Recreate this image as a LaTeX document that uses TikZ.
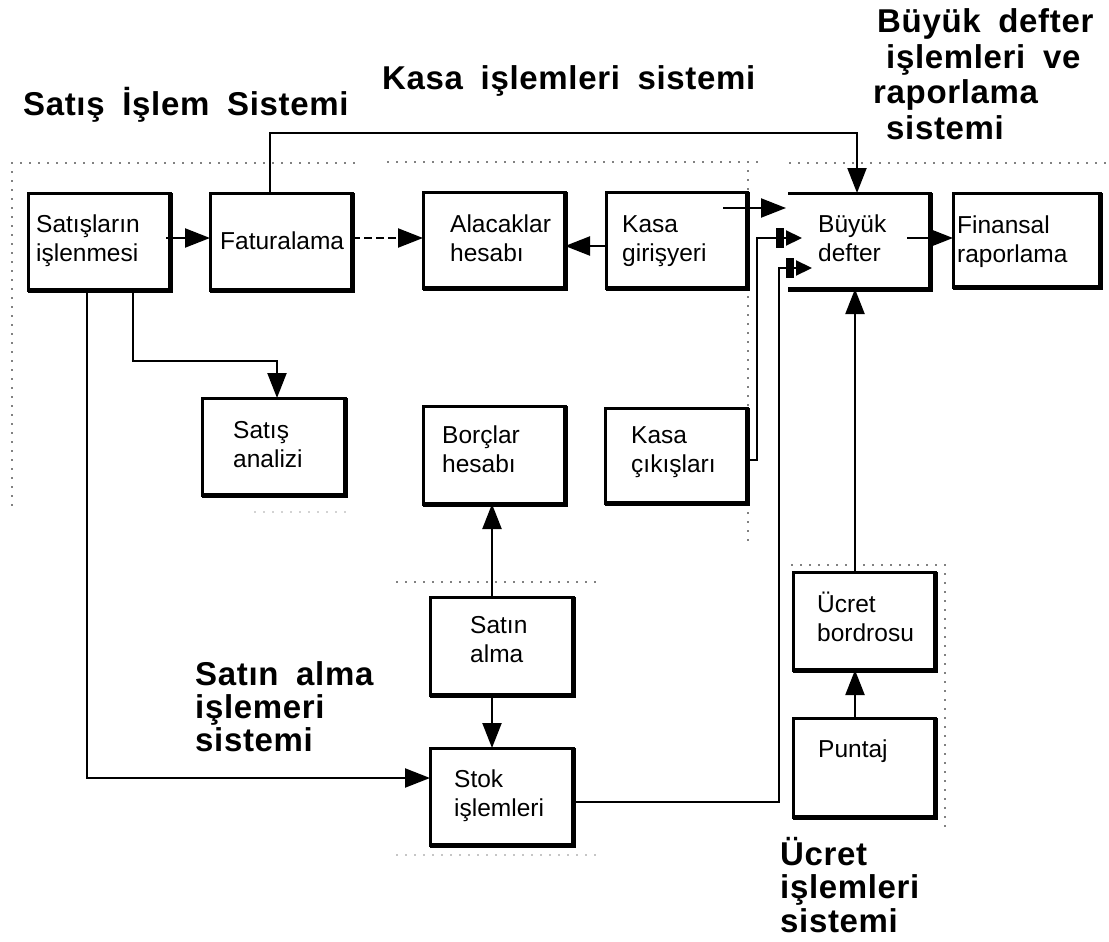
\documentclass[tikz,border=0pt]{standalone}
\usepackage{fontspec}
\setmainfont{Liberation Sans}
\newfontfamily\headfont[LetterSpace=2,WordSpace=1.8]{Liberation Sans}
\usetikzlibrary{arrows.meta,calc}

% left-aligned block of lines whose reference point is the first baseline
\newcommand\linesblock[1]{\begin{tabular}[t]{@{}l@{}}#1\end{tabular}}

\begin{document}
\begin{tikzpicture}[x=1pt,y=-1pt,
  box/.style={draw,line width=3pt,inner sep=0pt,outer sep=0pt},
  heavy/.style={line width=5pt,line join=miter,shift={(1,1)}},
  txt/.style={anchor=base west,inner sep=0pt,font=\fontsize{24.5}{29}\selectfont},
  heading/.style={anchor=base west,inner sep=0pt,font=\headfont\bfseries\fontsize{33}{#1}\selectfont},
  heading/.default=33,
  conn/.style={line width=2.2pt},
  arr/.style={-{Triangle[length=25pt,width=19pt]}},
  barr/.style={-{Rectangle[length=8pt,width=20pt,sep=2pt]Triangle[length=16pt,width=15pt]}},
  zone/.style={line width=1.8pt,dash pattern=on 0pt off 9pt,line cap=round},
]
\useasboundingbox[fill=white] (0,0) rectangle (1109,942);

% ---------- subsystem boundaries ----------
\draw[zone] (12,163) -- (358,163);
\draw[zone] (12,172) -- (12,508);
\draw[zone] (388,162) -- (758,162);
\draw[zone] (748,171) -- (748,540);
\draw[zone] (790,163) -- (1105,163);
\draw[zone,black!35] (255,512) -- (345,512);
\draw[zone] (397,582) -- (597,582);
\draw[zone,black!45] (397,855) -- (597,855);
\draw[zone] (792,565) -- (945,565);
\draw[zone] (945,574) -- (945,832);

% ---------- process boxes ----------
\node[box,minimum width=142pt,minimum height=97pt] (sat) at (99,241.5) {};
\node[box,minimum width=142pt,minimum height=97pt] (fat) at (281,241.5) {};
\node[box,minimum width=142pt,minimum height=96pt] (ala) at (494,240) {};
\node[box,minimum width=141pt,minimum height=96pt] (kasg) at (676.5,240) {};
\node[box,draw=none,minimum width=142pt,minimum height=96pt] (bd) at (859,241) {};
\node[box,minimum width=147pt,minimum height=94pt] (fin) at (1026.5,240) {};
\node[box,minimum width=143pt,minimum height=97pt] (san) at (273.5,446.5) {};
\node[box,minimum width=142pt,minimum height=98pt] (bor) at (494,455) {};
\node[box,minimum width=142pt,minimum height=95pt] (kasc) at (676,455.5) {};
\node[box,minimum width=143pt,minimum height=98pt] (sal) at (501.5,646) {};
\node[box,minimum width=143pt,minimum height=97pt] (stok) at (501.5,796.5) {};
\node[box,minimum width=142pt,minimum height=98pt] (ucr) at (864,621) {};
\node[box,minimum width=142pt,minimum height=99pt] (pun) at (864,767.5) {};

% the ledger box is open on its left side
\draw[line width=3pt] (bd.north west) -- (bd.north east) -- (bd.south east) -- (bd.south west);

% heavier right and bottom edges
\foreach \n in {sat,fat,ala,kasg,bd,fin,san,bor,kasc,sal,stok,ucr,pun}
  \draw[heavy] (\n.north east) -- (\n.south east) -- (\n.south west);

% ---------- box texts ----------
\node[txt] (satT)  at (36,232)  {\linesblock{Satışların\\işlenmesi}};
\node[txt] (fatT)  at (220,249) {Faturalama};
\node[txt] (alaT)  at (450,232) {\linesblock{Alacaklar\\hesabı}};
\node[txt] (kasgT) at (622,232) {\linesblock{Kasa\\girişyeri}};
\node[txt] (bdT)   at (818,232) {\linesblock{Büyük\\defter}};
\node[txt] (finT)  at (957,233) {\linesblock{Finansal\\raporlama}};
\node[txt] (sanT)  at (233,438) {\linesblock{Satış\\analizi}};
\node[txt] (borT)  at (442,443) {\linesblock{Borçlar\\hesabı}};
\node[txt] (kascT) at (631,443) {\linesblock{Kasa\\çıkışları}};
\node[txt] (salT)  at (470,633) {\linesblock{Satın\\alma}};
\node[txt] (stokT) at (454,787) {\linesblock{Stok\\işlemleri}};
\node[txt] (ucrT)  at (817,612) {\linesblock{Ücret\\bordrosu}};
\node[txt] (punT)  at (818,757) {Puntaj};

% ---------- subsystem titles ----------
\node[heading] (h1) at (23,115) {Satış İşlem Sistemi};
\node[heading] (h2) at (382,90) {Kasa işlemleri sistemi};
\node[heading=35.5] (h3) at (873,33)
  {\linesblock{\hspace*{4pt}Büyük defter\\\hspace*{13pt}işlemleri ve\\raporlama\\\hspace*{13pt}sistemi}};
\node[heading=31.5] (h4) at (195,685) {\linesblock{Satın alma\\işlemeri\\sistemi}};
\node[heading=33] (h5) at (780,865) {\linesblock{Ücret\\işlemleri\\sistemi}};

% ---------- connector waypoints ----------
\coordinate (y238) at (0,238);
\coordinate (y246) at (0,246);
\coordinate (t1) at (270,133);
\coordinate (t2) at (857,133);
\coordinate (g1) at (723,208);
\coordinate (g2) at (786,208);
\coordinate (k1) at (757,460);
\coordinate (k2) at (802,238);
\coordinate (s1) at (779,802);
\coordinate (s2) at (812,268);
\coordinate (f1) at (907,238);
\coordinate (q1) at (133,361);
\coordinate (q2) at (277,361);
\coordinate (p1) at (87,778);
\coordinate (x492) at (492,0);
\coordinate (x855) at (855,0);

% ---------- connectors ----------
\draw[conn,arr] ([xshift=-4pt]sat.east |- y238) -- (fat.west |- y238);
\draw[conn,arr,dash pattern=on 8pt off 4pt] (fat.east |- y238) -- (ala.west |- y238);
\draw[conn,arr] (kasg.west |- y246) -- (ala.east |- y246);
\draw[conn,arr] (fat.north -| t1) -- (t1) -- (t2) -- (bd.north -| t2);
\draw[conn,arr] (g1) -- (g2);
\draw[conn,barr] (kasc.east |- k1) -- (k1) |- (k2);
\draw[conn,barr] (stok.east |- s1) -- (s1) |- (s2);
\draw[conn,arr] (f1) -- (fin.west |- f1);
\draw[conn,arr] (sat.south -| q1) -- (q1) -- (q2) -- (san.north -| q2);
\draw[conn,arr] (sat.south -| p1) -- (p1) -- (stok.west |- p1);
\draw[conn,arr] (sal.north -| x492) -- (bor.south -| x492);
\draw[conn,arr] (sal.south -| x492) -- (stok.north -| x492);
\draw[conn,arr] (ucr.north -| x855) -- (bd.south -| x855);
\draw[conn,arr] (pun.north -| x855) -- (ucr.south -| x855);
\end{tikzpicture}
\end{document}
